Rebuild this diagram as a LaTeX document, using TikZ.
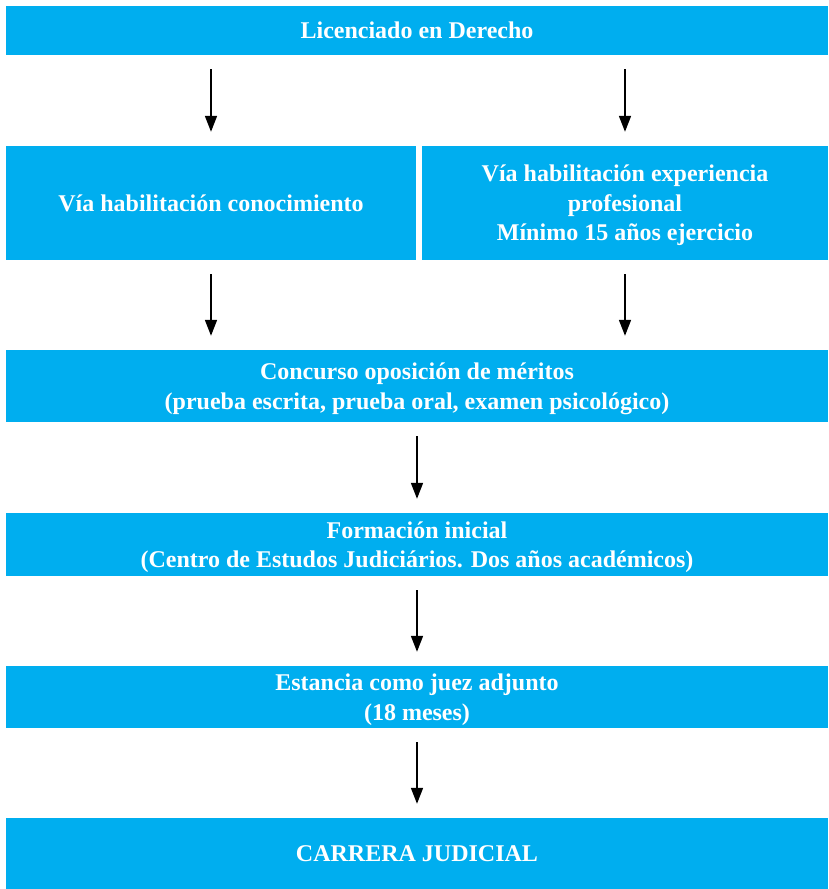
\documentclass[tikz,border=0pt]{standalone}
\usepackage{fontspec}
\setmainfont{Liberation Serif}
\usepackage{xcolor}
\usepackage{tikz}
\usetikzlibrary{calc}
\usetikzlibrary{arrows.meta}
\definecolor{boxblue}{HTML}{00AEEF}
\tikzstyle{stepbox}=[fill=boxblue, draw=none, text=white, font=\bfseries\fontsize{24}{29.5}\selectfont, align=center, inner sep=0pt, text depth=0pt, shape=rectangle]
\tikzstyle{flowarrow}=[-{Triangle[length=16pt, width=12pt]}, line width=1.7pt, color=black, shorten <=14pt, shorten >=14pt]

\begin{document}
\begin{tikzpicture}[x=1pt, y=-1pt]
\useasboundingbox (0,0) rectangle (828,889);
\node [stepbox, minimum width=822pt, minimum height=49pt] (lic) at (417,30.5) {Licenciado en Derecho};
\node [stepbox, minimum width=410pt, minimum height=114pt] (conoc) at (211,203) {Vía habilitación conocimiento};
\node [stepbox, minimum width=406pt, minimum height=114pt] (exper) at (625,203) {Vía habilitación experiencia\\profesional\\Mínimo 15 años ejercicio};
\node [stepbox, minimum width=822pt, minimum height=72pt] (concurso) at (417,386) {Concurso oposición de méritos\\(prueba escrita, prueba oral, examen psicológico)};
\node [stepbox, minimum width=822pt, minimum height=63pt] (formacion) at (417,544.5) {Formación inicial\\(Centro de Estudos Judiciários. Dos años académicos)};
\node [stepbox, minimum width=822pt, minimum height=62pt] (estancia) at (417,697) {Estancia como juez adjunto\\(18 meses)};
\node [stepbox, minimum width=822pt, minimum height=71pt] (carrera) at (417,853.5) {CARRERA JUDICIAL};

\draw[flowarrow] (lic.south -| conoc.north) -- (conoc.north);
\draw[flowarrow] (lic.south -| exper.north) -- (exper.north);
\draw[flowarrow] (conoc.south) -- (conoc.south |- concurso.north);
\draw[flowarrow] (exper.south) -- (exper.south |- concurso.north);
\draw[flowarrow] (concurso.south) -- (formacion.north);
\draw[flowarrow] (formacion.south) -- (estancia.north);
\draw[flowarrow] (estancia.south) -- (carrera.north);
\end{tikzpicture}
\end{document}
